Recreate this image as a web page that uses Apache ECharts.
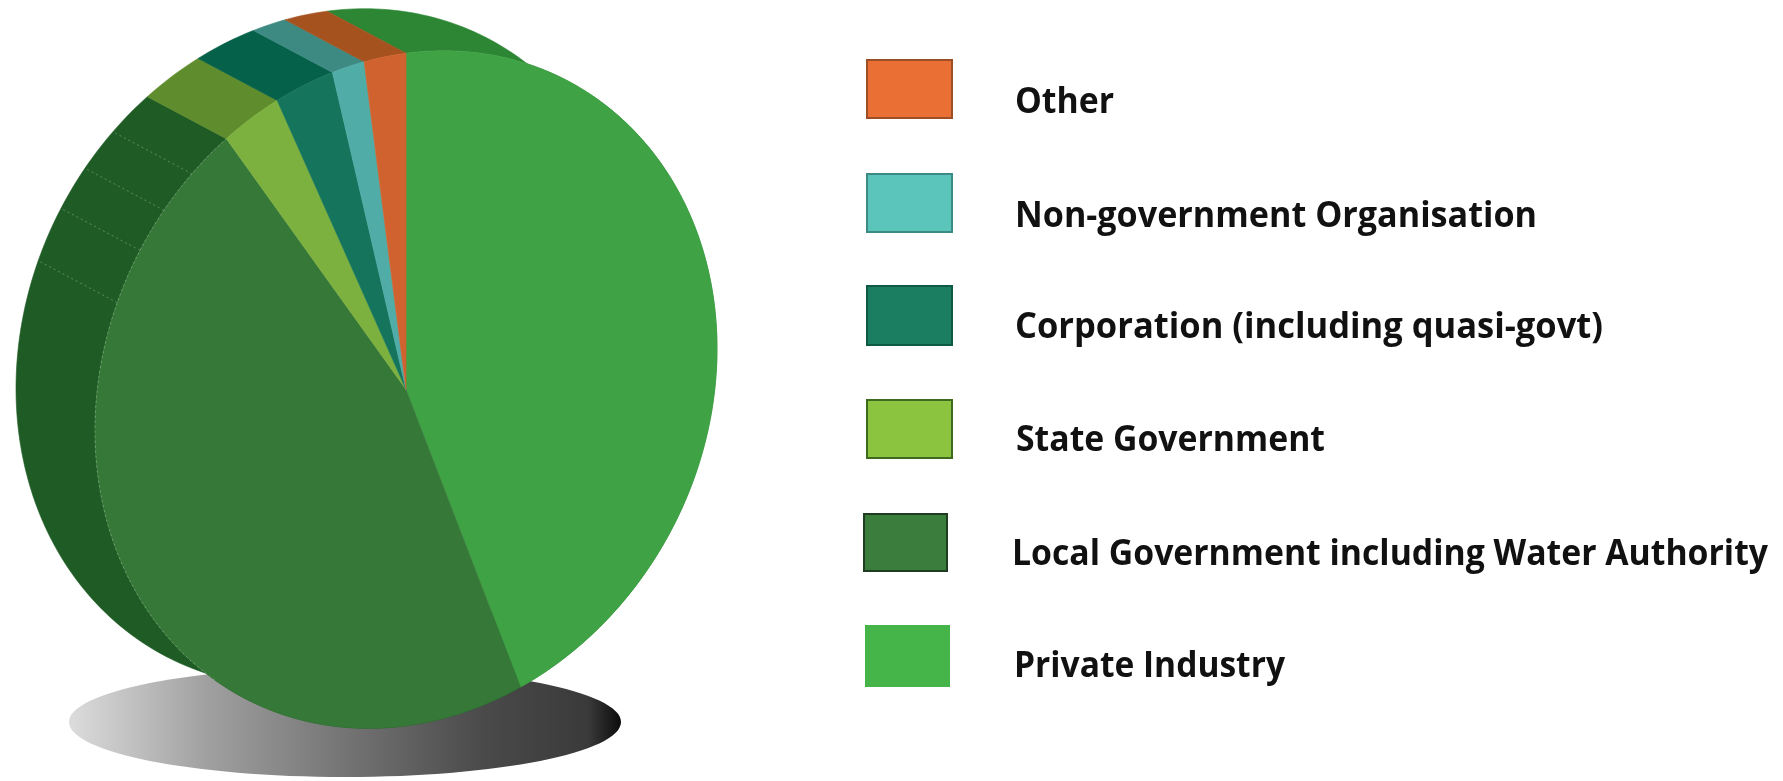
<!DOCTYPE html>
<html><head><meta charset="utf-8">
<style>html,body{margin:0;padding:0;background:#fff}#c{width:1783px;height:781px}</style>
<script src="https://cdn.jsdelivr.net/npm/echarts@6/dist/echarts.min.js"></script>
</head><body><div id="c"></div>
<script>
// Legend order, top to bottom
const categories = ['Other','Non-government Organisation','Corporation (including quasi-govt)','State Government','Local Government including Water Authority','Private Industry'];
const shares = [2.15, 1.65, 3.0, 3.0, 46.2, 44.0];
const faceColors = ['#cf622e','#50aca7','#15755c','#7db13f','#367838','#3fa345'];
const sideColors = ['#a5521f','#3c8a82','#05614a','#5f8c2c','#1f5c25','#2c8634'];
const swatchColors = ['#e96f35','#5bc4bb','#1b7e60','#8bc540','#3a7d3c','#45b549'];
const swatchBorders = ['#9c4f25','#3b8a83','#0f5a45','#3e6a1d','#1e3d20','#45b549'];

// Projection of the tilted disc
const CX = 406, CY = 389.5, A = 311, B = -41, C = 336.3, DX = -79, DY = -42;
const rad = d => d * Math.PI / 180;
const pt = (t, off) => {
  const c = Math.cos(rad(t)), s = Math.sin(rad(t));
  return [CX + A * c + (off ? DX : 0), CY + B * c + C * s + (off ? DY : 0)];
};
const arc = (t0, t1, off) => {
  const out = [], n = Math.max(2, Math.ceil(Math.abs(t1 - t0)));
  for (let i = 0; i <= n; i++) out.push(pt(t0 + (t1 - t0) * i / n, off));
  return out;
};

// Slices run clockwise from 12 o'clock: last legend entry first
const total = shares.reduce((a, b) => a + b, 0);
const rows = [];
let cursor = -90;
for (let i = shares.length - 1; i >= 0; i--) {
  const end = cursor + shares[i] / total * 360;
  rows.push([cursor, end, i]);
  cursor = end;
}

const seam = { stroke: 'rgba(255,255,255,0.28)', lineWidth: 1, lineDash: [2, 3] };
const seamAngles = [201.8, 211.2, 218.9, 226.5];

function renderSide(params, api) {
  const t0 = api.value(0), t1 = api.value(1), i = api.value(2);
  const col = sideColors[i];
  const children = [{
    type: 'polygon',
    shape: { points: arc(t0, t1, false).concat(arc(t1, t0, true)) },
    style: { fill: col, stroke: col, lineWidth: 0.6 }
  }];
  if (i === 4) {
    seamAngles.forEach(t => children.push({
      type: 'polyline', shape: { points: [pt(t, false), pt(t, true)] }, style: Object.assign({ fill: null }, seam), z2: 5
    }));
  }
  return { type: 'group', children };
}
function renderFace(params, api) {
  const t0 = api.value(0), t1 = api.value(1), i = api.value(2);
  const col = faceColors[i];
  const children = [{
    type: 'polygon',
    shape: { points: [[CX, CY]].concat(arc(t0, t1, false)) },
    style: { fill: col, stroke: col, lineWidth: 0.6 }
  }];
  if (i === 4) children.push({
    type: 'polyline', shape: { points: arc(128, t1, false) }, style: Object.assign({ fill: null }, seam), z2: 5
  });
  return { type: 'group', children };
}

// Legend
const swatchBoxes = [[867,60,85,58],[867,174,85,58],[867,286,85,59],[867,400,85,58],[864,514,83,57],[865,625,85,62]];
const labelSpots = [[1015,103,99],[1015,217,522],[1015,328,588],[1016,441,309],[1012,555,756],[1014,667,271]];
const FONT = '700 35px "Open Sans"';
const meas = document.createElement('canvas').getContext('2d');
const legendEls = [];
categories.forEach((name, i) => {
  const b = swatchBoxes[i], l = labelSpots[i];
  meas.font = FONT;
  const w = meas.measureText(name).width;
  legendEls.push({
    type: 'rect', shape: { x: b[0], y: b[1], width: b[2], height: b[3] },
    style: { fill: swatchColors[i], stroke: swatchBorders[i], lineWidth: i === 5 ? 0 : 2 }, silent: true
  });
  legendEls.push({
    type: 'text', x: l[0], y: l[1], scaleX: l[2] / w, originX: 0,
    style: { text: name, font: FONT, fill: '#111', textAlign: 'left', textVerticalAlign: 'middle' }, silent: true
  });
});

const chart = echarts.init(document.getElementById('c'), null, { renderer: 'canvas' });
chart.setOption({
  animation: false,
  backgroundColor: '#fff',
  graphic: { elements: [{
    type: 'ellipse', z: 0,
    shape: { cx: 345, cy: 722, rx: 276, ry: 55 },
    style: {
      fill: new echarts.graphic.LinearGradient(0, 0, 1, 0, [
        { offset: 0, color: '#dcdcdc' }, { offset: 0.25, color: '#a0a0a0' },
        { offset: 0.5, color: '#747474' }, { offset: 0.75, color: '#4a4a4a' },
        { offset: 0.94, color: '#3a3a3a' }, { offset: 1, color: '#0c0c0c' }
      ])
    }, silent: true
  }].concat(legendEls) },
  series: [
    { type: 'custom', coordinateSystem: 'none', z: 2, silent: true, renderItem: renderSide,
      data: rows, encode: { value: [0, 1, 2] } },
    { type: 'custom', coordinateSystem: 'none', z: 3, silent: true, renderItem: renderFace,
      data: rows, encode: { value: [0, 1, 2] } }
  ]
});
</script></body></html>
